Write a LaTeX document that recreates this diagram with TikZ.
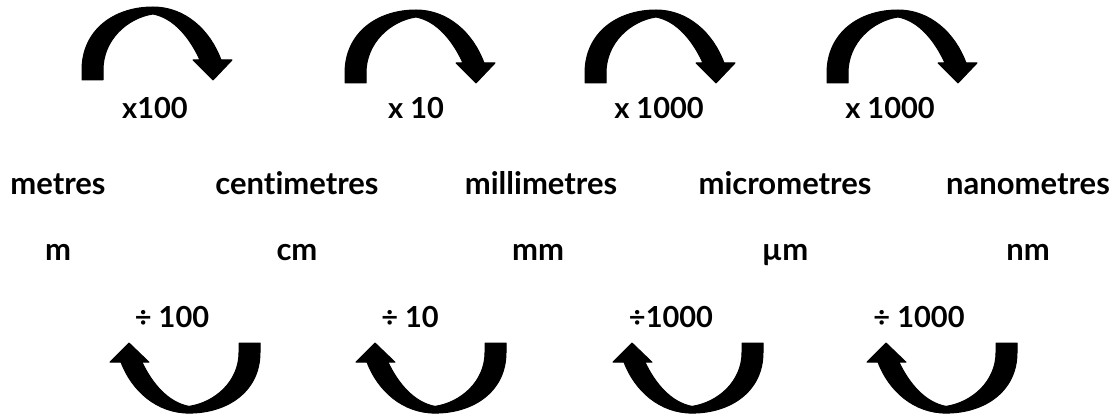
\documentclass[tikz,border=0pt]{standalone}
\usepackage{fontspec}
\setmainfont{Lato}[Ligatures=NoCommon]
\tikzset{
  lbl/.style={font=\fontsize{31}{36}\selectfont\bfseries, inner sep=0pt, anchor=base},
  numlbl/.style={font=\fontsize{29}{34}\selectfont\bfseries, inner sep=0pt, anchor=base},
  arrowshape/.style={fill=black, draw=black, line width=1pt, line join=round},
  bend arrow/.pic={
    \path[arrowshape] (0,0) -- (0,-10) .. controls (0,-50) and (32,-73) .. (71,-73)
      .. controls (103,-73) and (128,-50) .. (139,-20)
      -- (150,-20) -- (131,0) -- (111,-20) -- (118,-20)
      .. controls (108,-42) and (92,-62) .. (71,-66)
      .. controls (45,-62) and (21,-40) .. (21,-10) -- (21,0) -- cycle;
  },
  flipped/.style={rotate=180, yscale=0.96}
}
\begin{document}
\begin{tikzpicture}[x=1pt,y=-1pt]
\useasboundingbox[fill=white] (0,0) rectangle (1117,417);
% top arrows (multiply)
\pic at (82,80) {bend arrow};
\pic at (345,83) {bend arrow};
\pic at (585,83) {bend arrow};
\pic at (827,83) {bend arrow};
% bottom arrows (divide)
\pic[flipped] at (260,343) {bend arrow};
\pic[flipped] at (506,343) {bend arrow};
\pic[flipped] at (763,343) {bend arrow};
\pic[flipped] at (1017,343) {bend arrow};
% multiply labels
\node[numlbl] (m1) at (155,119) {x100};
\node[numlbl] (m2) at (416,119) {x 10};
\node[numlbl] (m3) at (659,119) {x 1000};
\node[numlbl] (m4) at (890,119) {x 1000};
% unit names
\node[lbl] (n1) at (58,194) {metres};
\node[lbl] (n2) at (297,194) {centimetres};
\node[lbl] (n3) at (541,194) {millimetres};
\node[lbl] (n4) at (785,194) {micrometres};
\node[lbl] (n5) at (1028,194) {nanometres};
% symbols
\node[lbl] (s1) at (58,260) {m};
\node[lbl] (s2) at (297,260) {cm};
\node[lbl] (s3) at (538,260) {mm};
\node[lbl] (s4) at (785,260) {µm};
\node[lbl] (s5) at (1028,260) {nm};
% divide labels
\node[numlbl] (d1) at (172,327) {÷ 100};
\node[numlbl] (d2) at (410,327) {÷ 10};
\node[numlbl] (d3) at (671,327) {÷1000};
\node[numlbl] (d4) at (919,327) {÷ 1000};
\end{tikzpicture}
\end{document}
